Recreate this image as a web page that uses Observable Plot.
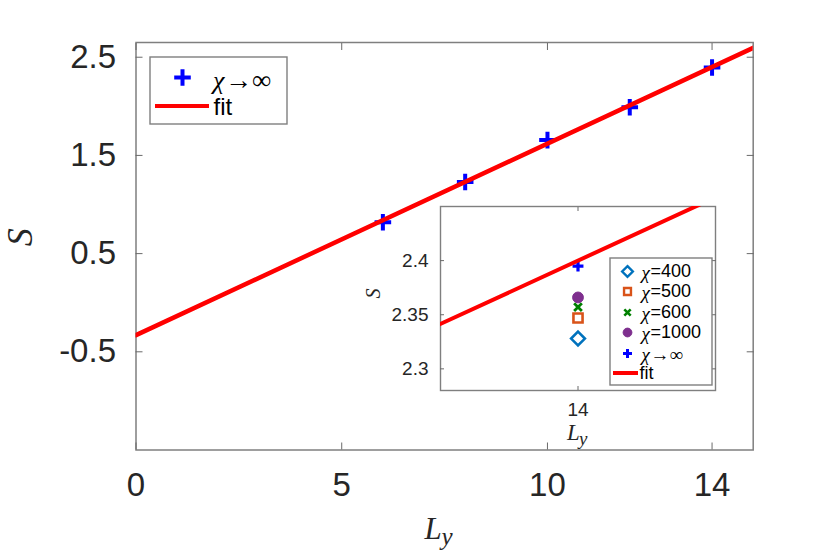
<!DOCTYPE html>
<html><head><meta charset="utf-8">
<script src="https://cdn.jsdelivr.net/npm/d3@7"></script>
<script src="https://cdn.jsdelivr.net/npm/@observablehq/plot@0.6"></script>
<style>
body{margin:0;background:#fff;}
#wrap{position:relative;width:831px;height:553px;background:#fff;}
#wrap svg{position:absolute;left:0;top:0;}
</style></head><body><div id="wrap"></div>
<script>
// ---- data ----
const Ly = [6, 8, 10, 12, 14];
const S_inf = [0.82, 1.23, 1.656, 1.99, 2.395];
const fitLy = [0, 15];
const fitS = [-0.33, 2.595];
const insetChi = ["400", "500", "600", "1000", "∞"];
const insetLy = [14, 14, 14, 14, 14];
const insetS = [2.328, 2.347, 2.357, 2.366, 2.395];
const mainXTicks = [0, 5, 10, 14];
const mainYTicks = [-0.5, 0.5, 1.5, 2.5];
const insetXTicks = [14];
const insetYTicks = [2.3, 2.35, 2.4];

// ---- styling ----
const W = 831, H = 553;
const frameStroke = "#7f7f7f";
const tickStroke = "#6a6a6a";
const txt = "#262626";
const sans = "'Liberation Sans', Arial, Helvetica, sans-serif";
const serif = "'Liberation Serif', 'Times New Roman', serif";
const red = "#FF0000";
const mainM = {left: 135.5, right: 78.3, top: 42, bottom: 103.5};
const insM = {left: 440, right: 116, top: 206, bottom: 163};

const mainPts = Ly.map((x, i) => ({Ly: x, S: S_inf[i]}));
const fitPts = fitLy.map((x, i) => ({Ly: x, S: fitS[i]}));
const insetPts = insetChi.map((c, i) => ({chi: c, Ly: insetLy[i], S: insetS[i]}));

const sty = [
  {symbol: "diamond2", stroke: "#0072BD", fill: "none", r: 6.2, sw: 2.6, lr: 4.8, lsw: 2.4},
  {symbol: "square2", stroke: "#D95319", fill: "none", r: 5.8, sw: 2.6, lr: 4.4, lsw: 2.4},
  {symbol: "times", stroke: "#008000", fill: "none", r: 3.6, sw: 2.8, lr: 3, lsw: 2.6},
  {symbol: "circle", stroke: "#7E2F8E", fill: "#7E2F8E", r: 5.4, sw: 1, lr: 4.4, lsw: 1},
  {symbol: "plus", stroke: "#0000FF", fill: "none", r: 3.6, sw: 3.2, lr: 3.0, lsw: 3}
];

function legendDeco(x, y, w, h, lx1, lx2, ly) {
  return () => {
    const g = d3.create("svg:g");
    g.append("rect").attr("x", x).attr("y", y).attr("width", w).attr("height", h)
      .attr("fill", "white").attr("stroke", frameStroke).attr("stroke-width", 1.4);
    g.append("line").attr("x1", lx1).attr("x2", lx2).attr("y1", ly).attr("y2", ly)
      .attr("stroke", red).attr("stroke-width", 4);
    return g.node();
  };
}

const one = [0];

// ---- main plot ----
const main = Plot.plot({
  width: W, height: H,
  marginLeft: mainM.left, marginRight: mainM.right, marginTop: mainM.top, marginBottom: mainM.bottom,
  x: {domain: [0, 15]},
  y: {domain: [-1.5, 2.65]},
  style: {fontFamily: sans, color: txt, background: "transparent", overflow: "visible"},
  marks: [
    Plot.frame({stroke: frameStroke, strokeWidth: 1.5}),
    Plot.axisX(mainXTicks, {anchor: "bottom", tickSize: -7, tickFormat: () => "", stroke: tickStroke, label: null}),
    Plot.axisX(mainXTicks, {anchor: "top", tickSize: -7, tickFormat: () => "", stroke: tickStroke, label: null}),
    Plot.axisX(mainXTicks, {anchor: "bottom", tickSize: 0, tickPadding: 23, fontSize: 33, fill: txt, label: null, tickFormat: d => String(d)}),
    Plot.axisY(mainYTicks, {anchor: "left", tickSize: -7, tickFormat: () => "", stroke: tickStroke, label: null}),
    Plot.axisY(mainYTicks, {anchor: "right", tickSize: -7, tickFormat: () => "", stroke: tickStroke, label: null}),
    Plot.axisY(mainYTicks, {anchor: "left", tickSize: 0, tickPadding: 20, fontSize: 33, fill: txt, label: null, tickFormat: d => String(d)}),
    Plot.dot(mainPts, {x: "Ly", y: "S", symbol: "plus", r: 5.4, stroke: "#0000FF", strokeWidth: 4}),
    Plot.line(fitPts, {x: "Ly", y: "S", stroke: red, strokeWidth: 4.5, clip: true}),
    // axis titles
    Plot.text(["S"], {text: d => d, frameAnchor: "left", dx: -116, rotate: -90, lineAnchor: "middle", fontSize: 36, fontStyle: "italic", fontFamily: serif, fill: txt}),
    Plot.text(["L"], {text: d => d, frameAnchor: "bottom", dx: -20, dy: 88.8, textAnchor: "start", lineAnchor: "bottom", fontSize: 31, fontStyle: "italic", fontFamily: serif, fill: txt}),
    Plot.text(["y"], {text: d => d, frameAnchor: "bottom", dx: -3, dy: 95, textAnchor: "start", lineAnchor: "bottom", fontSize: 25, fontStyle: "italic", fontFamily: serif, fill: txt}),
    // legend
    legendDeco(150, 57, 137, 67, 155, 209, 106),
    Plot.dot(one, {frameAnchor: "top-left", dx: 46.5, dy: 35, symbol: "plus", r: 5.4, stroke: "#0000FF", strokeWidth: 4}),
    Plot.text(["χ"], {text: d => d, frameAnchor: "top-left", dx: 77, dy: 38, textAnchor: "start", lineAnchor: "middle", fontSize: 26, fontStyle: "italic", fontFamily: serif, fill: "#000"}),
    Plot.text(["→∞"], {text: d => d, frameAnchor: "top-left", dx: 89, dy: 38, textAnchor: "start", lineAnchor: "middle", fontSize: 27, fontFamily: serif, fill: "#000"}),
    Plot.text(["fit"], {text: d => d, frameAnchor: "top-left", dx: 77.5, dy: 64.5, textAnchor: "start", lineAnchor: "middle", fontSize: 24, fontFamily: sans, fill: "#000"})
  ]
});

// ---- inset ----
const insetMarks = [
  Plot.frame({fill: "white", stroke: frameStroke, strokeWidth: 1.4}),
  Plot.axisX(insetXTicks, {anchor: "bottom", tickSize: -4, tickFormat: () => "", stroke: tickStroke, label: null}),
  Plot.axisX(insetXTicks, {anchor: "top", tickSize: -4, tickFormat: () => "", stroke: tickStroke, label: null}),
  Plot.axisX(insetXTicks, {anchor: "bottom", tickSize: 0, tickPadding: 12, fontSize: 19, fill: txt, label: null, tickFormat: d => String(d)}),
  Plot.axisY(insetYTicks, {anchor: "left", tickSize: -4, tickFormat: () => "", stroke: tickStroke, label: null}),
  Plot.axisY(insetYTicks, {anchor: "right", tickSize: -4, tickFormat: () => "", stroke: tickStroke, label: null}),
  Plot.axisY(insetYTicks, {anchor: "left", tickSize: 0, tickPadding: 12, fontSize: 19, fill: txt, label: null, tickFormat: d => String(d)})
];
insetPts.forEach((p, i) => {
  const s = sty[i];
  insetMarks.push(Plot.dot([p], {x: "Ly", y: "S", symbol: s.symbol, r: s.r, stroke: s.stroke, fill: s.fill, strokeWidth: s.sw}));
});
insetMarks.push(Plot.line(fitPts, {x: "Ly", y: "S", stroke: red, strokeWidth: 4, clip: true}));
insetMarks.push(
  Plot.text(["S"], {text: d => d, frameAnchor: "left", dx: -67, rotate: -90, lineAnchor: "middle", fontSize: 20, fontStyle: "italic", fontFamily: serif, fill: txt}),
  Plot.text(["L"], {text: d => d, frameAnchor: "bottom", dx: -11, dy: 49, textAnchor: "start", lineAnchor: "bottom", fontSize: 23, fontStyle: "italic", fontFamily: serif, fill: txt}),
  Plot.text(["y"], {text: d => d, frameAnchor: "bottom", dx: 1, dy: 54, textAnchor: "start", lineAnchor: "bottom", fontSize: 19, fontStyle: "italic", fontFamily: serif, fill: txt}),
  legendDeco(610, 258, 102, 127, 613, 638, 373)
);
const rowDy = [65, 85, 106, 126, 147];
insetPts.forEach((p, i) => {
  const s = sty[i];
  insetMarks.push(Plot.dot(one, {frameAnchor: "top-right", dx: -88, dy: rowDy[i], symbol: s.symbol, r: s.lr, stroke: s.stroke, fill: s.fill, strokeWidth: s.lsw}));
  insetMarks.push(Plot.text(["χ"], {text: d => d, frameAnchor: "top-right", dx: -74, dy: rowDy[i] + 1, textAnchor: "start", lineAnchor: "middle", fontSize: 19, fontStyle: "italic", fontFamily: serif, fill: "#000"}));
  if (p.chi === "∞") {
    insetMarks.push(Plot.text(["→∞"], {text: d => d, frameAnchor: "top-right", dx: -65, dy: rowDy[i] + 1, textAnchor: "start", lineAnchor: "middle", fontSize: 19, fontFamily: serif, fill: "#000"}));
  } else {
    insetMarks.push(Plot.text([p], {text: d => "=" + d.chi, frameAnchor: "top-right", dx: -65, dy: rowDy[i], textAnchor: "start", lineAnchor: "middle", fontSize: 18, fontFamily: sans, fill: "#000"}));
  }
});
insetMarks.push(Plot.text(["fit"], {text: d => d, frameAnchor: "top-right", dx: -76, dy: 167, textAnchor: "start", lineAnchor: "middle", fontSize: 18, fontFamily: sans, fill: "#000"}));

const inset = Plot.plot({
  width: W, height: H,
  marginLeft: insM.left, marginRight: insM.right, marginTop: insM.top, marginBottom: insM.bottom,
  x: {domain: [13.7, 14.3]},
  y: {domain: [2.28, 2.45]},
  style: {fontFamily: sans, color: txt, background: "transparent", overflow: "visible"},
  marks: insetMarks
});

const wrap = document.getElementById("wrap");
wrap.appendChild(main);
wrap.appendChild(inset);
</script>
</body></html>
